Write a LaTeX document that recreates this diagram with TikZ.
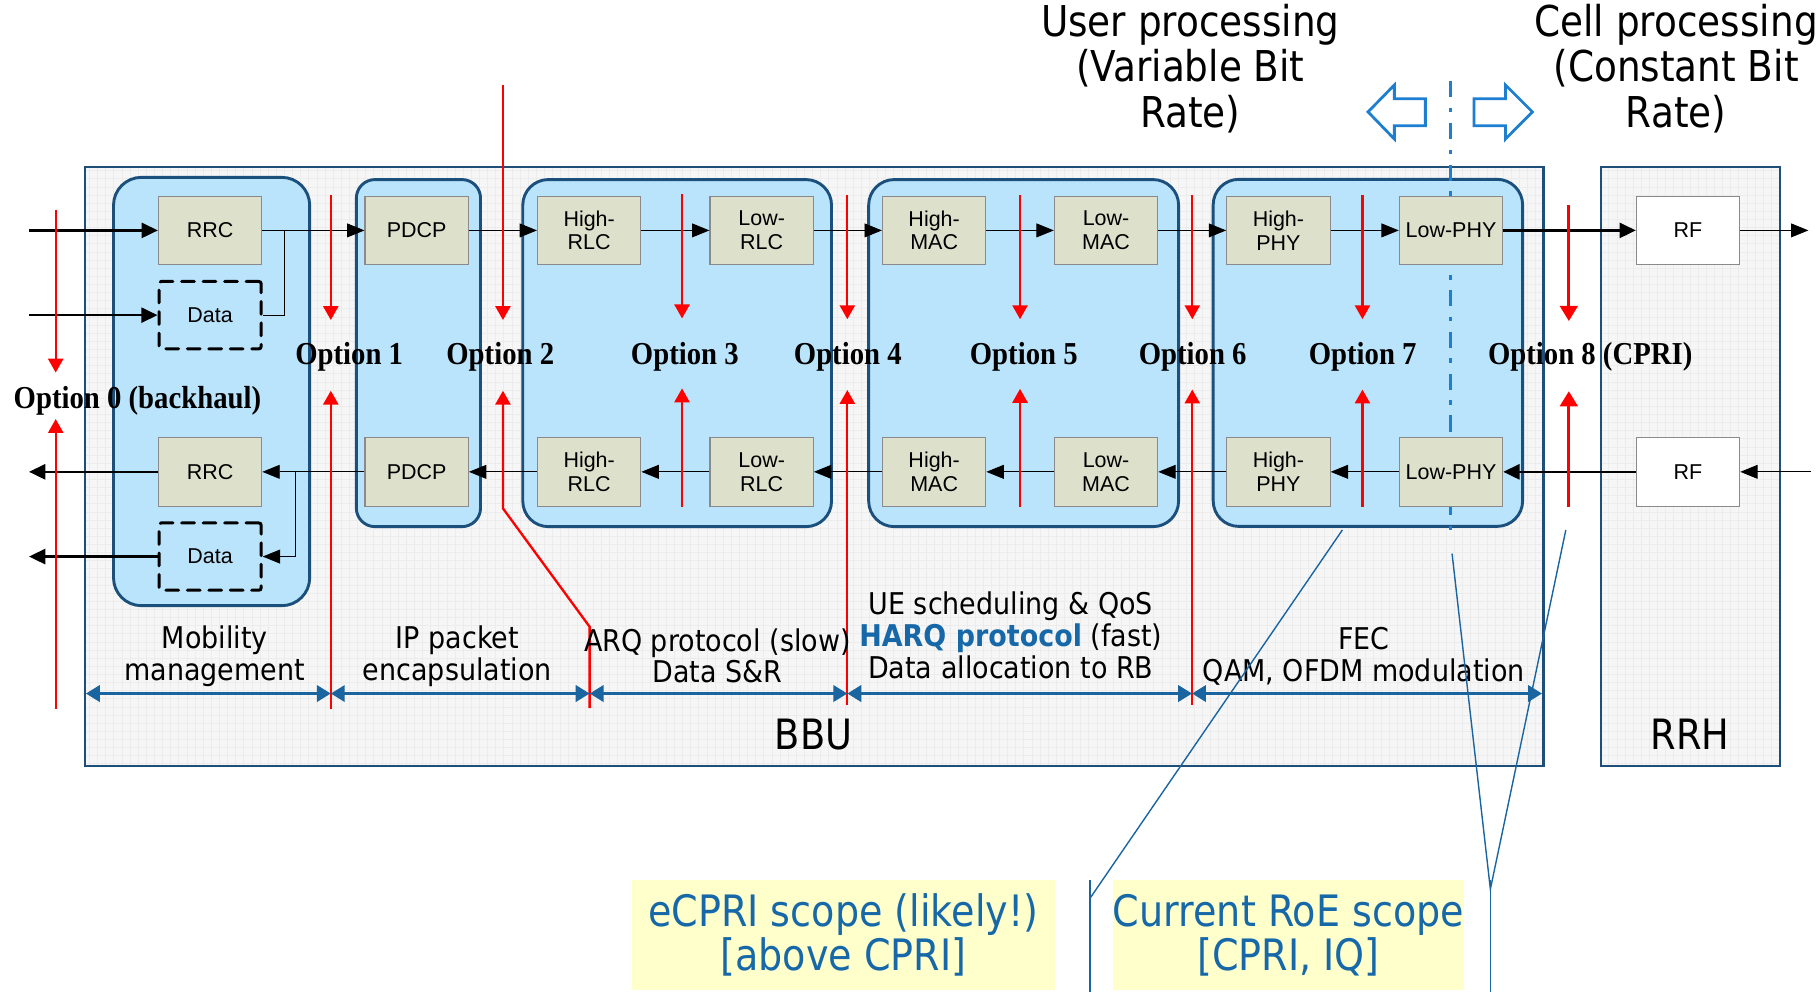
\documentclass[tikz,border=0pt]{standalone}
\usepackage{fontspec}
\usetikzlibrary{arrows.meta}
\newfontfamily\tah[FakeStretch=0.88]{DejaVu Sans}
\newfontfamily\tahb[FakeStretch=0.9]{DejaVu Sans}
\newfontfamily\optf[FakeStretch=0.9]{Liberation Serif}
\newfontfamily\arl{Liberation Sans}
\definecolor{boxfill}{HTML}{DDE0CB}
\definecolor{boxdraw}{HTML}{8A8A8A}
\definecolor{grpfill}{HTML}{BAE4FB}
\definecolor{grpdraw}{HTML}{1B4F7C}
\definecolor{bbudraw}{HTML}{1F4E79}
\definecolor{bbufill}{HTML}{F6F6F6}
\definecolor{gridc}{HTML}{ECECEC}
\definecolor{dimblue}{HTML}{1A64A0}
\definecolor{txtblue}{HTML}{1668A8}
\definecolor{brightblue}{HTML}{1E7FD0}
\definecolor{ylw}{HTML}{FFFFCC}
\definecolor{optred}{HTML}{FF0000}
\tikzset{
  blk/.style={draw=boxdraw, fill=boxfill, line width=1pt, minimum width=89pt, minimum height=59pt,
    inner sep=0pt, align=center, font=\arl\fontsize{18.5}{20.5}\selectfont},
  dbox/.style={draw=black, dash pattern=on 11pt off 7.5pt, line cap=round, line width=2.6pt, rounded corners=2pt,
    minimum width=88pt, minimum height=58pt, inner sep=0pt, font=\arl\fontsize{18.5}{20.5}\selectfont},
  grp/.style={draw=grpdraw, fill=grpfill, line width=2.5pt, rounded corners=22pt, inner sep=0pt},
  outerbox/.style={fill=bbufill, inner sep=0pt},
  thinarrow/.style={draw=black, line width=0.8pt, -{Triangle[length=15pt,width=12pt]}},
  thinline/.style={draw=black, line width=0.8pt},
  fatarrow/.style={draw=black, line width=2pt, -{Triangle[length=14pt,width=13pt]}},
  redarrow/.style={draw=optred, line width=2pt, -{Triangle[length=12pt,width=13pt]}},
  redarrowb/.style={draw=optred, line width=2.8pt, -{Triangle[length=13pt,width=15pt]}},
  dimarrow/.style={draw=dimblue, line width=2.5pt, {Triangle[length=12pt,width=14pt]}-{Triangle[length=12pt,width=14pt]}},
  optlbl/.style={font=\optf\bfseries\fontsize{27.5}{30}\selectfont, inner sep=0pt},
  lbl/.style={font=\tahb\fontsize{25.8}{27.5}\selectfont, align=center, inner sep=0pt},
  toplbl/.style={font=\tah\fontsize{36.6}{39}\selectfont, align=center, inner sep=0pt},
  ylwbox/.style={fill=ylw, minimum width=364pt, minimum height=95pt, inner sep=0pt, align=center,
    text=txtblue, font=\tah\fontsize{37.3}{38}\selectfont},
  bracket/.style={draw=dimblue, line width=1.2pt},
  hollow/.style={draw=brightblue, fill=white, line width=2.4pt, line join=miter}
}
\begin{document}
\begin{tikzpicture}[x=1pt,y=-1pt]
\useasboundingbox (0,0) rectangle (1568,855);
\fill[white] (0,0) rectangle (1568,855);

% outer boxes
\node[outerbox, minimum width=1256pt, minimum height=516pt] (bbu) at (701.5,402) {};
\node[outerbox, minimum width=154pt, minimum height=516pt] (rrh) at (1456.6,402) {};
\begin{scope}
  \clip (bbu.north west) rectangle (bbu.south east);
  \draw[gridc, line width=0.5pt, step=7pt] (bbu.north west) grid (bbu.south east);
\end{scope}
\begin{scope}
  \clip (rrh.north west) rectangle (rrh.south east);
  \draw[gridc, line width=0.5pt, step=7pt] (rrh.north west) grid (rrh.south east);
\end{scope}
\draw[bbudraw, line width=2pt] (bbu.north west) rectangle (bbu.south east);
\draw[bbudraw, line width=2pt] (rrh.north west) rectangle (rrh.south east);
\node[font=\tah\fontsize{36}{38}\selectfont, inner sep=0pt] (bbulbl) at (701,633) {BBU};
\node[font=\tah\fontsize{36}{38}\selectfont, inner sep=0pt] (rrhlbl) at (1456,633) {RRH};

% groups
\node[grp, rounded corners=24pt, minimum width=169pt, minimum height=369pt] (g1) at (182.3,337.3) {};
\node[grp, rounded corners=16pt, minimum width=107pt, minimum height=299pt] (g2) at (360.5,304.2) {};
\node[grp, minimum width=266pt, minimum height=299pt] (g3) at (583.4,304.2) {};
\node[grp, minimum width=267pt, minimum height=299pt] (g4) at (881.9,304.2) {};
\node[grp, minimum width=266.6pt, minimum height=299pt] (g5) at (1178.5,304) {};

% dash-dot split line
\coordinate (dd1) at (1249.6,69.8);
\coordinate (dd2) at (1249.6,461.6);
\draw[brightblue, line width=2.9pt, dash pattern=on 14pt off 9pt on 4pt off 9pt] (dd1) -- (dd2);

% blocks
\node[blk] (rrcT) at (181,198.5) {RRC};
\node[dbox] (dataT) at (181,271.5) {Data};
\node[blk] (rrcB) at (181,406.5) {RRC};
\node[dbox] (dataB) at (181,479.5) {Data};
\node[blk] (pdcpT) at (359,198.5) {PDCP};
\node[blk] (pdcpB) at (359,406.5) {PDCP};
\node[blk] (hrlcT) at (507.6,198.5) {High-\\RLC};
\node[blk] (hrlcB) at (507.6,406.5) {High-\\RLC};
\node[blk] (lrlcT) at (656.2,198.5) {Low-\\RLC};
\node[blk] (lrlcB) at (656.2,406.5) {Low-\\RLC};
\node[blk] (hmacT) at (804.8,198.5) {High-\\MAC};
\node[blk] (hmacB) at (804.8,406.5) {High-\\MAC};
\node[blk] (lmacT) at (952.9,198.5) {Low-\\MAC};
\node[blk] (lmacB) at (952.9,406.5) {Low-\\MAC};
\node[blk] (hphyT) at (1101.4,198.5) {High-\\PHY};
\node[blk] (hphyB) at (1101.4,406.5) {High-\\PHY};
\node[blk] (lphyT) at (1250.1,198.5) {Low-PHY};
\node[blk] (lphyB) at (1250.1,406.5) {Low-PHY};
\node[blk, fill=white] (rfT) at (1454.3,198.5) {RF};
\node[blk, fill=white] (rfB) at (1454.3,406.5) {RF};

% connectors
\coordinate (inT) at (25,198.5);
\coordinate (inD) at (25,271.5);
\coordinate (outR) at (25,406.5);
\coordinate (outD) at (25,479.5);
\coordinate (brT) at (245.3,198.5);
\coordinate (brB) at (254.5,406.5);
\coordinate (rfout) at (1558,198.5);
\coordinate (rfin) at (1560,406.5);
\draw[fatarrow] (inT) -- (rrcT.west);
\draw[fatarrow] (inD) -- (dataT.west);
\draw[thinarrow] (rrcT.east) -- (pdcpT.west);
\draw[thinline] (brT) |- (dataT.east);
\draw[thinarrow] (pdcpT.east) -- (hrlcT.west);
\draw[thinarrow] (hrlcT.east) -- (lrlcT.west);
\draw[thinarrow] (lrlcT.east) -- (hmacT.west);
\draw[thinarrow] (hmacT.east) -- (lmacT.west);
\draw[thinarrow] (lmacT.east) -- (hphyT.west);
\draw[thinarrow] (hphyT.east) -- (lphyT.west);
\draw[fatarrow] (lphyT.east) -- (rfT.west);
\draw[thinarrow] (rfT.east) -- (rfout);
\draw[thinarrow] (rfin) -- (rfB.east);
\draw[fatarrow] (rfB.west) -- (lphyB.east);
\draw[thinarrow] (lphyB.west) -- (hphyB.east);
\draw[thinarrow] (hphyB.west) -- (lmacB.east);
\draw[thinarrow] (lmacB.west) -- (hmacB.east);
\draw[thinarrow] (hmacB.west) -- (lrlcB.east);
\draw[thinarrow] (lrlcB.west) -- (hrlcB.east);
\draw[thinarrow] (hrlcB.west) -- (pdcpB.east);
\draw[thinarrow] (pdcpB.west) -- (rrcB.east);
\draw[thinarrow] (brB) |- (dataB.east);
\draw[fatarrow] (rrcB.west) -- (outR);
\draw[fatarrow] (dataB.west) -- (outD);

% red option arrows
\foreach \n/\x/\a/\b/\c/\d in {0/48/181/321/361/611, 1/285/168/275.7/336.6/611,
  3/587.6/167/274.3/334.6/436.5, 4/730/168/275/336/607.5, 5/878.8/168/275/335/436.5,
  6/1027.2/168/275/335.6/607, 7/1173.8/168/275/335.6/437}{
  \coordinate (r\n a) at (\x,\a);
  \coordinate (r\n b) at (\x,\b);
  \coordinate (r\n c) at (\x,\c);
  \coordinate (r\n d) at (\x,\d);
  \draw[redarrow] (r\n a) -- (r\n b);
  \draw[redarrow] (r\n d) -- (r\n c);
}
\coordinate (r2a) at (433.3,73);
\coordinate (r2b) at (433.3,275.7);
\coordinate (r2c) at (433.3,336.6);
\coordinate (r2k) at (433.3,438);
\coordinate (r2j) at (508,540);
\coordinate (r2d) at (508,610);
\draw[redarrow] (r2a) -- (r2b);
\draw[redarrow] (r2d) -- (r2j) -- (r2k) -- (r2c);
\coordinate (r8a) at (1351.6,176.5);
\coordinate (r8b) at (1351.6,276.6);
\coordinate (r8c) at (1351.6,337);
\coordinate (r8d) at (1351.6,437);
\draw[redarrowb] (r8a) -- (r8b);
\draw[redarrowb] (r8d) -- (r8c);

% option labels
\node[optlbl] (o0) at (118.4,345) {Option 0 (backhaul)};
\node[optlbl] (o1) at (300.8,307) {Option 1};
\node[optlbl] (o2) at (431,307) {Option 2};
\node[optlbl] (o3) at (590,307) {Option 3};
\node[optlbl] (o4) at (730.4,307) {Option 4};
\node[optlbl] (o5) at (882,307) {Option 5};
\node[optlbl] (o6) at (1027.5,307) {Option 6};
\node[optlbl] (o7) at (1174,307) {Option 7};
\node[optlbl] (o8) at (1370,307) {Option 8 (CPRI)};

% dimension arrows
\foreach \i/\x in {0/74,1/285,2/508,3/730,4/1027,5/1328.5}{\coordinate (d\i) at (\x,597.5);}
\draw[dimarrow] (d0) -- (d1);
\draw[dimarrow] (d1) -- (d2);
\draw[dimarrow] (d2) -- (d3);
\draw[dimarrow] (d3) -- (d4);
\draw[dimarrow] (d4) -- (d5);

% function labels
\node[lbl] (f1) at (185,565) {Mobility\\management};
\node[lbl] (f2) at (394,565) {IP packet\\encapsulation};
\node[lbl] (f3) at (618,565) {ARQ protocol (slow)\\Data S\&R};
\node[lbl] (f4) at (870.8,547.5) {UE scheduling \& QoS\\{\bfseries\color{txtblue}HARQ protocol} (fast)\\Data allocation to RB};
\node[lbl] (f5) at (1175,565.5) {FEC\\QAM, OFDM modulation};

% top labels
\node[toplbl] (up) at (1025.5,59) {User processing\\(Variable Bit\\Rate)};
\node[toplbl] (cp) at (1444,59) {Cell processing\\(Constant Bit\\Rate)};
\draw[hollow] (1178.6,96.4) -- (1201.3,73.2) -- (1201.3,85.1) -- (1228,85.1) -- (1228,108.3) -- (1201.3,108.3) -- (1201.3,119.8) -- cycle;
\draw[hollow] (1320.2,96.4) -- (1297,73.2) -- (1297,85.1) -- (1269.8,85.1) -- (1269.8,108.3) -- (1297,108.3) -- (1297,119.8) -- cycle;

% scope brackets
\coordinate (b1s) at (1156.5,456.6);
\coordinate (b1e) at (939,774);
\coordinate (v1t) at (939,758);
\coordinate (v1b) at (939,855);
\coordinate (b2s) at (1251,477);
\coordinate (b3s) at (1349,456.6);
\coordinate (b23e) at (1284,766);
\coordinate (v2t) at (1284,758);
\coordinate (v2b) at (1284,855);
\draw[bracket] (b1s) -- (b1e);
\draw[bracket] (v1t) -- (v1b);
\draw[bracket] (b2s) -- (b23e) -- (b3s);
\draw[bracket] (v2t) -- (v2b);

\node[ylwbox] (ecpri) at (726.5,805.8) {eCPRI scope (likely!)\\{[}above CPRI{]}};
\node[ylwbox, minimum width=297pt] (roe) at (1110.1,805.8) {Current RoE scope\\{[}CPRI, IQ{]}};
\end{tikzpicture}
\end{document}
